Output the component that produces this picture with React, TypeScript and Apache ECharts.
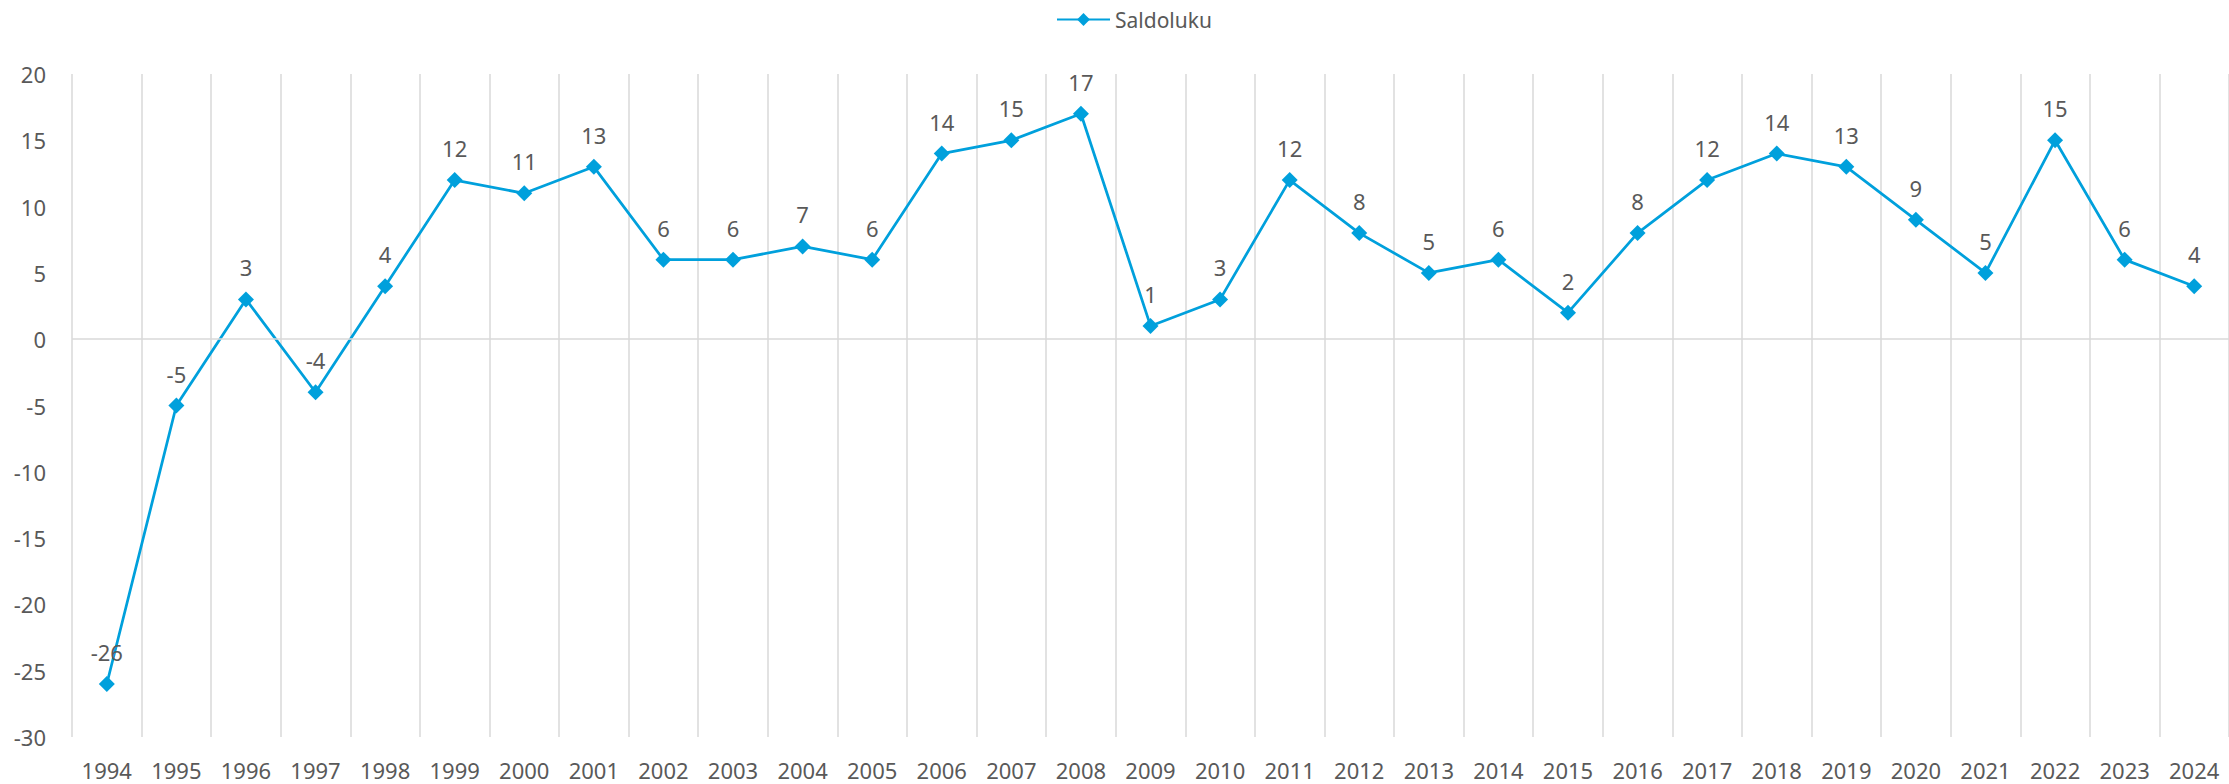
import React, { useEffect, useRef } from "react";
import * as echarts from "echarts";

const years = ["1994","1995","1996","1997","1998","1999","2000","2001","2002","2003","2004","2005","2006","2007","2008","2009","2010","2011","2012","2013","2014","2015","2016","2017","2018","2019","2020","2021","2022","2023","2024"];
const saldoluku = [-26, -5, 3, -4, 4, 12, 11, 13, 6, 6, 7, 6, 14, 15, 17, 1, 3, 12, 8, 5, 6, 2, 8, 12, 14, 13, 9, 5, 15, 6, 4];
const seriesName = "Saldoluku";

const FONT = "'Noto Sans', 'Open Sans', sans-serif";
const TEXT = "#595959";
const GRID = "#d9d9d9";
const BLUE = "#00a0dc";

export default function App() {
  const ref = useRef<HTMLDivElement>(null);
  useEffect(() => {
    if (!ref.current) return;
    const chart = echarts.init(ref.current, null, { renderer: "svg" });
    chart.setOption({
      animation: false,
      backgroundColor: "#ffffff",
      textStyle: { fontFamily: FONT },
      legend: {
        left: 1051,
        top: 4,
        itemWidth: 53,
        itemHeight: 16,
        itemGap: 4,
        textStyle: { color: TEXT, fontSize: 21, fontFamily: FONT },
        data: [seriesName],
      },
      grid: { left: 72, top: 74, width: 2160, bottom: 47, containLabel: false },
      xAxis: {
        type: "category",
        data: years,
        boundaryGap: true,
        axisLine: { show: false },
        axisTick: { show: false },
        axisLabel: { color: TEXT, fontSize: 22, margin: 22, fontFamily: FONT, interval: 0 },
        splitLine: { show: true, interval: 0, lineStyle: { color: GRID, width: 1.5 } },
      },
      yAxis: {
        type: "value",
        min: -30,
        max: 20,
        interval: 5,
        axisLine: { show: false },
        axisTick: { show: false },
        splitLine: { show: false },
        axisLabel: { color: TEXT, fontSize: 22, margin: 26, fontFamily: FONT },
      },
      series: [
        {
          name: seriesName,
          type: "line",
          data: saldoluku,
          symbol: "diamond",
          symbolSize: 16,
          itemStyle: { color: BLUE },
          lineStyle: { color: BLUE, width: 2.75 },
          label: {
            show: true,
            position: "top",
            distance: 13,
            color: TEXT,
            fontSize: 22,
            fontFamily: FONT,
          },
          markLine: {
            silent: true,
            symbol: "none",
            label: { show: false },
            lineStyle: { color: GRID, width: 1.5, type: "solid" },
            data: [{ yAxis: 0 }],
          },
          z: 3,
        },
      ],
    });
    return () => chart.dispose();
  }, []);
  return (
    <div
      ref={ref}
      style={{ position: "fixed", left: 0, top: 0, width: 2229, height: 784, background: "#fff" }}
    />
  );
}
